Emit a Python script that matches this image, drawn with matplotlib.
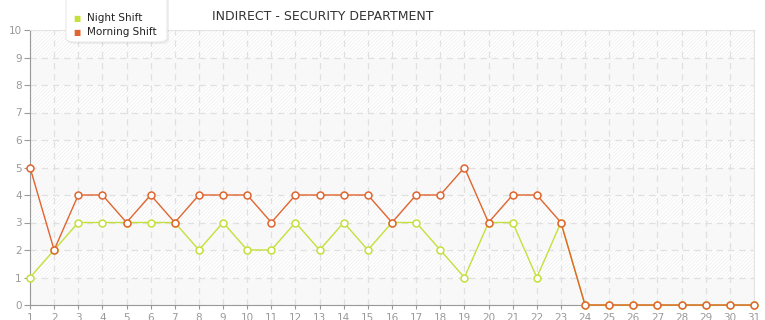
import numpy as np
import matplotlib.pyplot as plt
from matplotlib.patches import FancyBboxPatch

# Data
days = list(range(1, 32))
night = [1, 2, 3, 3, 3, 3, 3, 2, 3, 2, 2, 3, 2, 3, 2, 3, 3, 2, 1, 3, 3, 1, 3,
         0, 0, 0, 0, 0, 0, 0, 0]
morning = [5, 2, 4, 4, 3, 4, 3, 4, 4, 4, 3, 4, 4, 4, 4, 3, 4, 4, 5, 3, 4, 4, 3,
           0, 0, 0, 0, 0, 0, 0, 0]
y_ticks = list(range(0, 11))

night_color = '#c5e03c'
morning_color = '#e0652e'

plt.rcParams['hatch.linewidth'] = 0.5

fig = plt.figure(figsize=(7.65, 3.2), dpi=100)
ax = fig.add_axes([30 / 765, 15 / 320, 724 / 765, 275 / 320])

# Background: faint hatching, every other band washed over in light grey
ax.fill_between([1, 31], 0, 10, facecolor='white', edgecolor='#eeeeee',
                hatch='/' * 9, lw=0, zorder=0.2)
for i in range(0, 10, 2):
    ax.axhspan(i, i + 1, color='#f8f8f8', alpha=0.8, zorder=0.5, lw=0)

ax.set_xlim(1, 31)
ax.set_ylim(0, 10)
ax.set_xticks(days)
ax.set_yticks(y_ticks)
ax.grid(True, color='#e0e0e0', linestyle=(0, (5, 4)), lw=0.9, zorder=1)

ax.spines['top'].set_color('#e4e4e4')
ax.spines['right'].set_color('#e4e4e4')
ax.spines['left'].set_color('#999999')
ax.spines['bottom'].set_color('#999999')
ax.tick_params(axis='y', colors='#999999', labelsize=7.5, length=4, width=0.8, pad=2,
               labelcolor='#999999')
ax.tick_params(axis='x', colors='#999999', labelsize=7.5, length=3, width=0.8, pad=3,
               labelcolor='#999999')

ax.plot(days, night, color=night_color, lw=1, marker='o', ms=5, mfc='white',
        mec=night_color, mew=1.1, zorder=3, clip_on=False, label='Night Shift')
ax.plot(days, morning, color=morning_color, lw=1, marker='o', ms=5, mfc='white',
        mec=morning_color, mew=1.1, zorder=4, clip_on=False, label='Morning Shift')

# Legend box with a soft shadow
shadow = FancyBboxPatch((67 / 765, 276 / 320), 102 / 765, 50 / 320,
                        boxstyle='round,pad=0,rounding_size=0.012',
                        transform=fig.transFigure, facecolor='#000000', alpha=0.06,
                        edgecolor='none', zorder=4.5)
fig.patches.append(shadow)
box = FancyBboxPatch((66 / 765, 278 / 320), 101 / 765, 50 / 320,
                     boxstyle='round,pad=0,rounding_size=0.012',
                     transform=fig.transFigure, facecolor='white',
                     edgecolor='#e8e8e8', lw=0.8, zorder=5)
fig.patches.append(box)
for i, (lab, col) in enumerate([('Night Shift', night_color), ('Morning Shift', morning_color)]):
    yy = (320 - 18 - i * 14) / 320
    fig.text(77 / 765, yy, '\u25a0', color=col, fontsize=5.5, va='center', ha='center', zorder=6)
    fig.text(87 / 765, yy, lab, color='#222222', fontsize=7.5, va='center', ha='left', zorder=6)

fig.text(323 / 765, (320 - 17) / 320, 'INDIRECT - SECURITY DEPARTMENT', color='#333333',
         fontsize=9, ha='center', va='center')

fig.savefig('out.png', dpi=100)
